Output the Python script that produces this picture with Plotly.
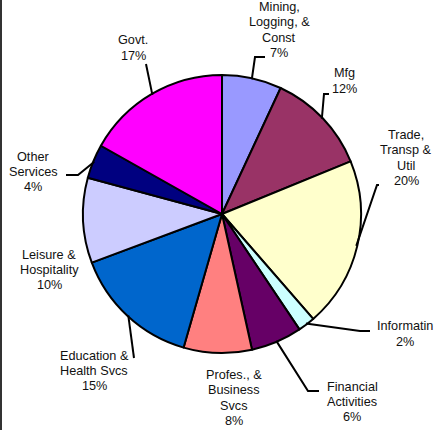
import math
import plotly.graph_objects as go

# Employment share by industry sector
sectors = ["Mining, Logging, & Const", "Mfg", "Trade, Transp & Util", "Informatin",
           "Financial Activities", "Profes., & Business Svcs", "Education & Health Svcs",
           "Leisure & Hospitality", "Other Services", "Govt."]
label_lines = [["Mining,", "Logging, &", "Const"], ["Mfg"], ["Trade,", "Transp &", "Util"],
               ["Informatin"], ["Financial", "Activities"], ["Profes., &", "Business", "Svcs"],
               ["Education &", "Health Svcs"], ["Leisure &", "Hospitality"],
               ["Other", "Services"], ["Govt."]]
shares = [7, 12, 20, 2, 6, 8, 15, 10, 4, 17]
colors = ["#9999FF", "#993366", "#FFFFCC", "#CCFFFF", "#660066",
          "#FF8080", "#0066CC", "#CCCCFF", "#000080", "#FF00FF"]

W, H = 435, 430
CX, CY, R = 222, 214, 139
LINE_H = 15.3

# label anchor (pixel centre) and leader elbow points per slice
label_pos = [(279, 30), (344, 81), (406, 158), (405, 334), (352, 402),
             (234, 398), (94, 371), (49, 270), (33, 172), (133, 48)]
leader_pts = [[(255, 57), (265, 57)], [(324, 94), (329, 94)], [(377, 185), (379, 185)],
              [(360, 331), (370, 331)], [(308, 391), (319, 391)], None,
              [(134, 358)], None, [(78, 175), (66, 175)], [(146, 64)]]

def px(x):
    return x / W

def py(y):
    return 1 - y / H

fig = go.Figure(go.Pie(
    labels=sectors, values=shares, sort=False, direction="clockwise", rotation=0,
    marker=dict(colors=colors, line=dict(color="black", width=2)),
    textinfo="none", hoverinfo="label+percent", showlegend=False,
    domain=dict(x=[px(CX - R), px(CX + R)], y=[py(CY + R), py(CY - R)]),
))

total = sum(shares)
cum = 0
shapes = []
annotations = []
for i, v in enumerate(shares):
    mid = (cum + v / 2) / total * 2 * math.pi
    cum += v
    lx, ly = label_pos[i]
    lines = label_lines[i] + [f"{v}%"]
    n = len(lines)
    for j, line in enumerate(lines):
        yy = ly + (j - (n - 1) / 2) * LINE_H
        annotations.append(dict(
            x=px(lx), y=py(yy), xref="paper", yref="paper", showarrow=False,
            xanchor="center", yanchor="middle", text=line,
            font=dict(family="Liberation Sans, Arial", size=12.7, color="#111111"),
        ))
    if leader_pts[i]:
        sx = CX + (R - 1) * math.sin(mid)
        sy = CY - (R - 1) * math.cos(mid)
        pts = [(sx, sy)] + leader_pts[i]
        path = "M " + " L ".join(f"{px(x)},{py(y)}" for x, y in pts)
        shapes.append(dict(type="path", path=path, xref="paper", yref="paper",
                           line=dict(color="black", width=2)))

# left frame edge
shapes.append(dict(type="line", xref="paper", yref="paper", x0=px(1), x1=px(1), y0=0, y1=1,
                   line=dict(color="#333333", width=2)))

fig.update_layout(
    width=W, height=H, margin=dict(l=0, r=0, t=0, b=0),
    paper_bgcolor="white", plot_bgcolor="white",
    shapes=shapes, annotations=annotations,
)
fig.write_html("out.html")
